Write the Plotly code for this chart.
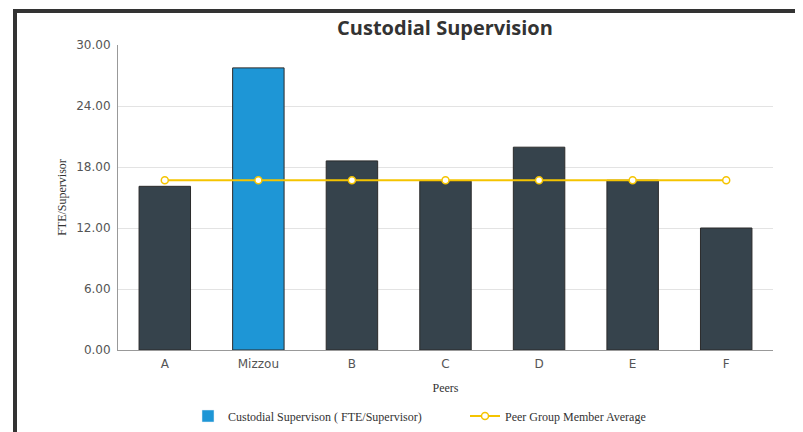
import plotly.graph_objects as go

categories = ["A", "Mizzou", "B", "C", "D", "E", "F"]
fte_per_supervisor = [16.1, 27.75, 18.6, 16.6, 19.95, 16.7, 12.0]
peer_average = [16.7, 16.7, 16.7, 16.7, 16.7, 16.7, 16.7]
y_ticks = [0, 6, 12, 18, 24, 30]
y_tick_labels = ["0.00", "6.00", "12.00", "18.00", "24.00", "30.00"]

W, H = 803, 432
OFF = 8  # page body margin offset
L, T = 118 - OFF, 45 - OFF
R = W - (773 - OFF)
B = H - (350 - OFF)
pw, ph = W - L - R, H - T - B

def px_x(x):
    return (x - OFF - L) / pw

def px_y(y):
    return (H - B - (y - OFF)) / ph

bar_colors = ["#1e96d6" if c == "Mizzou" else "#36434c" for c in categories]

fig = go.Figure()
fig.add_trace(go.Bar(
    x=categories, y=fte_per_supervisor,
    marker=dict(color=bar_colors, line=dict(color="#2b2b2b", width=1)),
    width=0.55, showlegend=False, hoverinfo="x+y",
))
fig.add_trace(go.Bar(
    x=[None], y=[None], name="Custodial Supervison ( FTE/Supervisor)",
    marker=dict(color="#1e96d6"), showlegend=True,
))
fig.add_trace(go.Scatter(
    x=categories, y=peer_average, mode="lines+markers",
    name="Peer Group Member Average",
    line=dict(color="#f5c400", width=2),
    marker=dict(symbol="circle", size=7, color="white",
                line=dict(color="#f5c400", width=1.5)),
))

fig.update_layout(
    width=W, height=H,
    margin=dict(l=L, r=R, t=T, b=B, autoexpand=False),
    paper_bgcolor="white", plot_bgcolor="white",
    barmode="overlay",
    title=dict(text="<b>Custodial Supervision</b>", x=px_x(445), xref="paper",
               xanchor="center", y=1 - (28 - OFF) / H, yanchor="middle",
               font=dict(family="Open Sans", size=20, color="#333333")),
    xaxis=dict(
        type="category", showgrid=False, showline=True, linecolor="#999999",
        linewidth=1, ticks="outside", tickcolor="rgba(0,0,0,0)", ticklen=3,
        tickfont=dict(family="DejaVu Sans", size=12, color="#555555"),
        title=dict(text="Peers", font=dict(family="Liberation Serif", size=12, color="#333333"),
                   standoff=13),
        range=[-0.5, 6.5],
    ),
    yaxis=dict(
        range=[0, 30], tickvals=y_ticks, ticktext=y_tick_labels,
        showgrid=True, gridcolor="#e3e3e3", gridwidth=1,
        showline=True, linecolor="#999999", linewidth=1, zeroline=False,
        tickfont=dict(family="DejaVu Sans", size=12, color="#555555"),
        ticks="outside", tickcolor="rgba(0,0,0,0)", ticklen=4,
        title=dict(text="FTE/Supervisor", font=dict(family="Liberation Serif", size=12, color="#333333"),
                   standoff=7),
    ),
    legend=dict(
        orientation="h", x=px_x(188), xanchor="left", y=px_y(416), yanchor="middle",
        font=dict(family="Liberation Serif", size=12, color="#333333"),
        entrywidth=232, entrywidthmode="pixels", bgcolor="rgba(0,0,0,0)",
    ),
    shapes=[dict(
        type="rect", xref="paper", yref="paper",
        x0=px_x(15), x1=px_x(900), y0=px_y(600), y1=px_y(11),
        line=dict(color="#333333", width=4), fillcolor="rgba(0,0,0,0)", layer="above",
    )],
)

fig.write_html("out.html")
